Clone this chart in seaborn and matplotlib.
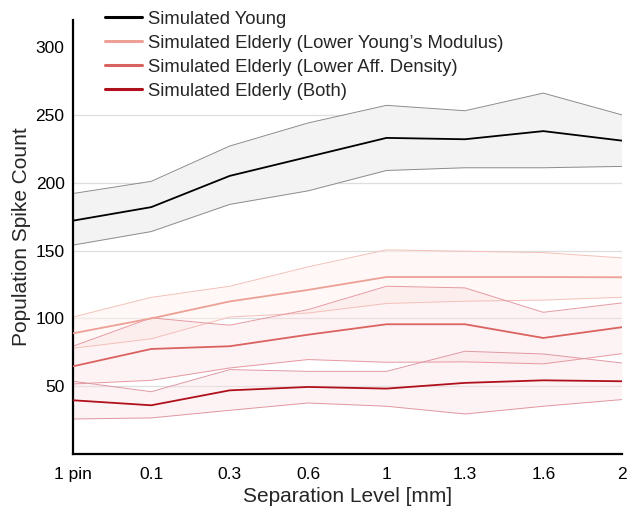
import numpy as np
import pandas as pd
import matplotlib
matplotlib.use("Agg")
import matplotlib.pyplot as plt
import seaborn as sns
from matplotlib.lines import Line2D

levels = ["1 pin", "0.1", "0.3", "0.6", "1", "1.3", "1.6", "2"]

young_mean = [172, 182, 205, 219, 233, 232, 238, 231]
young_upper = [192, 201, 227, 244, 257, 253, 266, 250]
young_lower = [154, 164, 184, 194, 209, 211, 211, 212]

lym_mean = [89, 100, 112.5, 121, 130.5, 130.5, 130.5, 130.3]
lym_upper = [101, 115.5, 123.7, 138, 150.5, 149.5, 148.5, 144.6]
lym_lower = [78, 85, 101, 104, 111, 112.7, 113.5, 115.6]

lad_mean = [64.7, 77.5, 79.5, 88, 95.7, 95.7, 85.6, 93.5]
lad_upper = [79.5, 100.4, 95, 106.5, 123.7, 122.5, 104.5, 111.4]
lad_lower = [51.7, 54.4, 63.5, 69.7, 67.7, 68, 66.5, 74]

both_mean = [39.7, 36, 47, 49.5, 48.3, 52.5, 54.4, 53.7]
both_upper = [53.7, 46, 62.3, 61, 61, 75.8, 73.8, 67.2]
both_lower = [25.9, 26.7, 32.3, 37.7, 35.3, 29.6, 35.3, 40.2]

names = ["Simulated Young",
         "Simulated Elderly (Lower Young\u2019s Modulus)",
         "Simulated Elderly (Lower Aff. Density)",
         "Simulated Elderly (Both)"]
colors = ["#000000", "#eca096", "#da6260", "#b0101c"]
edge_colors = ["#8c8c8c", "#f3c0b8", "#e59aa2", "#df98a2"]
fill_colors = ["#f3f3f3", "#fff2ef", "#fbe1e4", "#fbe1e4"]
fill_alphas = [1.0, 0.5, 0.4, 0.4]

means = [young_mean, lym_mean, lad_mean, both_mean]
uppers = [young_upper, lym_upper, lad_upper, both_upper]
lowers = [young_lower, lym_lower, lad_lower, both_lower]

rows = []
for n, m in zip(names, means):
    for i, v in enumerate(m):
        rows.append({"x": i, "value": v, "group": n})
df = pd.DataFrame(rows)

sns.set_theme(style="white")
plt.rcParams["font.family"] = ["Liberation Sans", "DejaVu Sans"]

fig = plt.figure(figsize=(6.28, 5.08), dpi=100)
ax = fig.add_axes([0.116, 0.106, 0.874, 0.855])

x = np.arange(len(levels))
for yv in [50, 100, 150, 200, 250]:
    ax.axhline(yv, color="#dedede", lw=0.9, zorder=0)

for i in range(4):
    ax.fill_between(x, lowers[i], uppers[i], color=fill_colors[i],
                    alpha=fill_alphas[i], lw=0, zorder=1)
    ax.plot(x, uppers[i], color=edge_colors[i], lw=0.7, zorder=2)
    ax.plot(x, lowers[i], color=edge_colors[i], lw=0.7, zorder=2)
    ax.plot([x[-1], x[-1]], [lowers[i][-1], uppers[i][-1]],
            color=edge_colors[i], lw=0.7, zorder=2)

sns.lineplot(data=df, x="x", y="value", hue="group", hue_order=names,
             palette=dict(zip(names, colors)), linewidth=1.3, ax=ax,
             zorder=3, legend=False)

handles = [Line2D([0], [0], color=c, lw=2.2) for c in colors]
ax.legend(handles, names, loc="upper left", bbox_to_anchor=(0.058, 1.021),
          frameon=False, fontsize=13.3, handlelength=2.0, handletextpad=0.33,
          labelspacing=0.38, borderaxespad=0, borderpad=0)

ax.set_xlim(0, 7)
ax.set_ylim(0, 320)
ax.set_xticks(x)
ax.set_xticklabels(levels)
ax.set_yticks([50, 100, 150, 200, 250, 300])
ax.tick_params(direction="in", length=4, width=1.2, labelsize=12.5,
               colors="black", pad=6)
ax.tick_params(axis="x", pad=9)
for s in ["top", "right"]:
    ax.spines[s].set_visible(False)
for s in ["left", "bottom"]:
    ax.spines[s].set_color("black")
    ax.spines[s].set_linewidth(1.6)
ax.set_xlabel("Separation Level [mm]", fontsize=15, labelpad=4)
ax.set_ylabel("Population Spike Count", fontsize=15, labelpad=3)

fig.savefig("out.png", dpi=100)
